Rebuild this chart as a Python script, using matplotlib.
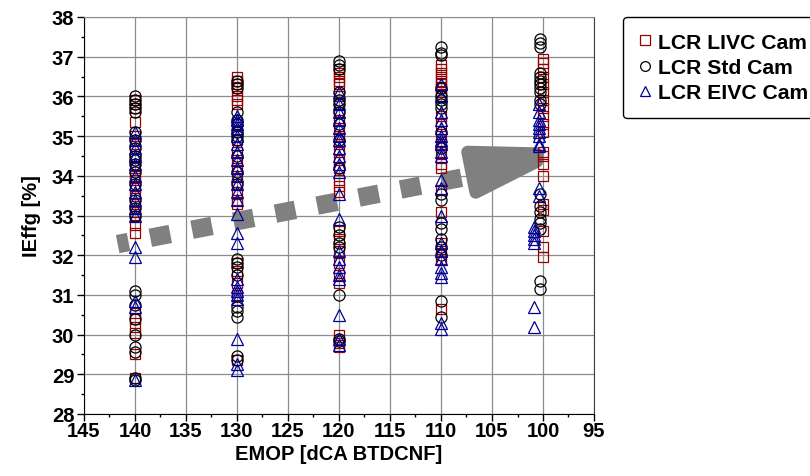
import matplotlib
matplotlib.use("Agg")
import matplotlib.pyplot as plt
from matplotlib.patches import Polygon
from matplotlib.ticker import MultipleLocator

plt.rcParams['font.family'] = ['Liberation Sans', 'DejaVu Sans']
plt.rcParams['font.weight'] = 'bold'
plt.rcParams['font.size'] = 14

# ---- measured gross indicated efficiency, grouped by EMOP position ----
livc = {
    140: [35.9, 35.8, 35.7, 35.35, 35.0, 34.8, 34.5, 34.2, 34.0, 33.9, 33.7, 33.5, 33.3,
          33.1, 33.0, 32.75, 32.55, 30.55, 30.4, 30.2, 30.05, 29.5, 28.9],
    130: [36.5, 36.4, 36.3, 36.2, 36.0, 35.9, 35.8, 35.3, 35.1, 34.9, 34.6, 34.4, 34.2,
          34.0, 33.8, 33.6, 33.4, 33.3, 31.8, 31.6, 31.3, 31.0, 29.35],
    120: [36.7, 36.6, 36.5, 36.4, 36.3, 36.0, 35.8, 35.6, 35.4, 35.2, 35.0, 34.8, 34.6,
          34.4, 34.2, 33.9, 33.75, 33.6, 32.6, 32.4, 32.1, 31.8, 31.5, 31.3, 30.0, 29.8, 29.7],
    110: [36.8, 36.7, 36.6, 36.5, 36.4, 36.3, 36.2, 36.1, 36.0, 35.5, 35.3, 35.0, 34.8,
          34.6, 34.3, 34.2, 33.65, 33.1, 32.3, 32.1, 31.9, 30.65],
    100: [36.95, 36.85, 36.7, 36.5, 36.3, 36.1, 35.9, 35.7, 35.5, 35.3, 35.1, 34.6, 34.5,
          34.3, 34.0, 33.3, 33.15, 32.6, 32.2, 31.95],
}
std = {
    140: [36.0, 35.9, 35.8, 35.7, 35.6, 35.1, 34.9, 34.7, 34.5, 34.4, 34.3, 34.1, 33.8,
          33.4, 33.2, 33.0, 31.1, 31.0, 30.75, 30.4, 30.0, 29.7, 29.55, 28.9, 28.85],
    130: [36.4, 36.3, 36.2, 35.6, 35.4, 35.3, 35.1, 35.0, 34.9, 34.5, 34.1, 33.8, 31.9,
          31.8, 31.7, 31.5, 30.7, 30.6, 30.45, 29.45, 29.35],
    120: [36.9, 36.8, 36.7, 36.1, 35.9, 35.8, 35.6, 35.3, 34.9, 34.2, 32.7, 32.5, 32.3,
          32.2, 31.0, 29.9, 29.85],
    110: [37.25, 37.1, 37.05, 36.2, 36.0, 35.9, 35.8, 35.7, 35.1, 34.7, 33.55, 33.4, 32.8,
          32.65, 32.4, 32.2, 32.0, 30.85, 30.45],
    100.3: [37.45, 37.35, 37.25, 36.6, 36.5, 36.4, 36.3, 36.2, 36.1, 35.9, 35.8, 33.55,
            33.25, 33.1, 32.9, 32.8, 32.65, 31.35, 31.15],
}
eivc = {
    140: [35.1, 34.9, 34.7, 34.5, 34.3, 34.0, 33.8, 33.6, 33.4, 33.2, 33.0, 32.2, 31.95,
          30.85, 30.7, 28.85],
    130: [35.5, 35.4, 35.3, 35.2, 35.0, 34.8, 34.6, 34.4, 34.2, 34.0, 33.8, 33.6, 33.4,
          33.05, 32.55, 32.3, 31.4, 31.2, 31.1, 31.0, 30.9, 29.9, 29.25, 29.1],
    120: [36.1, 35.8, 35.6, 35.4, 35.2, 35.0, 34.9, 34.7, 34.5, 34.3, 34.1, 33.55, 32.9,
          32.1, 31.9, 31.7, 31.5, 31.4, 30.5, 29.9, 29.75],
    110: [36.3, 36.0, 35.6, 35.4, 35.2, 35.0, 34.9, 34.8, 34.6, 34.5, 33.9, 33.7, 33.0,
          32.3, 32.1, 31.9, 31.7, 31.55, 31.45, 30.3, 30.15],
    100.4: [35.8, 35.6, 35.4, 35.3, 35.2, 35.1, 35.0, 34.8, 34.75, 33.7, 33.5],
    100.9: [32.7, 32.6, 32.5, 32.4, 32.3, 30.7, 30.2],
}

series = [
    ("LCR LIVC Cam", livc, "s", "#990000", 7.5),
    ("LCR Std Cam", std, "o", "black", 8.0),
    ("LCR EIVC Cam", eivc, "^", "#000099", 8.0),
]

# trend arrow (dashed shaft + blunt head), in data units
shaft_start = (141.7, 32.28)
shaft_end = (108.0, 33.95)
head = [(107.4, 34.6), (106.6, 33.58), (100.6, 34.36), (100.6, 34.56)]
arrow_grey = "#808080"

fig = plt.figure(figsize=(8.1, 4.77), dpi=100)
ax = fig.add_axes([84 / 810, 1 - 415 / 477, 510 / 810, 397 / 477])

ax.plot([shaft_start[0], shaft_end[0]], [shaft_start[1], shaft_end[1]],
        color=arrow_grey, lw=13.3, ls=(0.5, (1.1, 1.2)),
        solid_capstyle="butt", dash_capstyle="butt", zorder=2)
ax.add_patch(Polygon(head, closed=True, facecolor=arrow_grey, edgecolor=arrow_grey,
                     lw=9, joinstyle="round", zorder=2))

for label, groups, marker, color, ms in series:
    xs, ys = [], []
    for x, vals in groups.items():
        xs += [x] * len(vals)
        ys += vals
    ax.plot(xs, ys, ls="none", marker=marker, ms=ms, mfc="none", mec=color,
            mew=0.9, label=label, zorder=3)

ax.set_xlim(145, 95)
ax.set_ylim(28, 38)
ax.xaxis.set_major_locator(MultipleLocator(5))
ax.xaxis.set_minor_locator(MultipleLocator(2.5))
ax.yaxis.set_major_locator(MultipleLocator(1))
ax.yaxis.set_minor_locator(MultipleLocator(0.5))
ax.grid(True, which="major", color="#8c8c8c", lw=0.9, zorder=0)
ax.set_axisbelow(True)

ax.tick_params(which="major", direction="out", length=5, width=1, pad=2,
               labelsize=14.5)
ax.tick_params(axis="x", which="major", pad=0)
ax.tick_params(which="minor", direction="out", length=2.5, width=1)
ax.spines["left"].set_color("black")
ax.spines["bottom"].set_color("black")
ax.spines["top"].set_color("#8c8c8c")
ax.spines["right"].set_color("#404040")

ax.set_xlabel("EMOP [dCA BTDCNF]", fontsize=14.5, fontweight="bold", labelpad=3)
ax.set_ylabel("IEffg [%]", fontsize=14.5, fontweight="bold", labelpad=8)

leg = fig.legend(loc="upper left", bbox_to_anchor=(623 / 810, 1 - 18 / 477),
                 borderaxespad=0, fancybox=True, framealpha=1, edgecolor="black",
                 handlelength=0.6, handletextpad=0.3, labelspacing=0.3,
                 borderpad=0.75, prop={"weight": "bold", "size": 15.2})
leg.get_frame().set_linewidth(1.0)
for h in leg.legend_handles:
    h.set_markersize(7)

fig.savefig("out.png", dpi=100)
